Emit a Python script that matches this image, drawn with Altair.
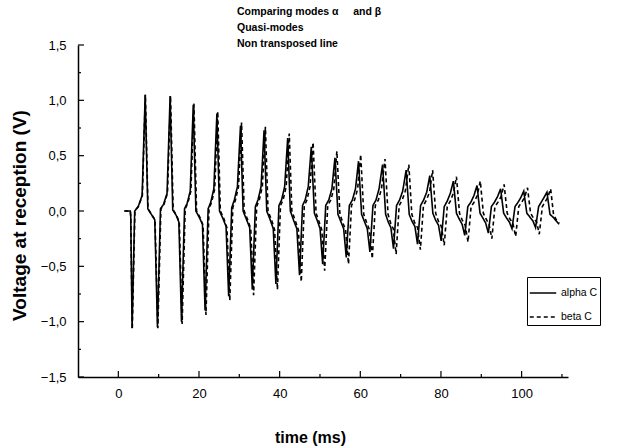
import altair as alt
import pandas as pd

FONT = "Liberation Sans"

series_names = ["alpha C", "beta C"]

alpha_t = [1.5, 2.97, 3.08,
           3.41, 4.06, 4.93, 5.90, 6.66, 7.31, 8.18, 9.04,
           9.70, 10.45, 11.21, 12.08, 12.84, 13.49, 14.36, 15.01,
           15.66, 16.42, 17.07, 17.83, 18.58, 19.23, 20.10, 20.86,
           21.51, 22.27, 22.92, 23.68, 24.44, 25.09, 25.96, 26.71,
           27.36, 28.12, 28.77, 29.53, 30.29, 30.94, 31.81, 32.57,
           33.22, 33.98, 34.63, 35.39, 36.14, 36.80, 37.66, 38.42,
           39.07, 39.83, 40.48, 41.24, 42.00, 42.65, 43.52, 44.27,
           44.93, 45.68, 46.33, 47.09, 47.85, 48.61, 49.37, 50.02,
           50.67, 51.43, 52.19, 52.95, 53.71, 54.46, 55.22, 55.87,
           56.52, 57.28, 58.04, 58.80, 59.56, 60.32, 61.08, 61.73,
           62.38, 63.14, 63.90, 64.65, 65.52, 66.28, 66.93, 67.58,
           68.23, 68.99, 69.75, 70.51, 71.37, 72.13, 72.78, 73.54,
           74.19, 74.95, 75.71, 76.47, 77.23, 77.99, 78.64, 79.40,
           80.05, 80.81, 81.56, 82.32, 83.08, 83.84, 84.49, 85.25,
           85.90, 86.66, 87.42, 88.18, 88.94, 89.69, 90.34, 91.10,
           91.75, 92.51, 93.27, 94.03, 94.79, 95.55, 96.20, 96.96,
           97.61, 98.37, 99.13, 99.78, 100.53, 101.29, 101.94, 102.81,
           103.46, 104.22, 104.87, 105.52, 106.28, 107.04, 107.91, 108.6, 109.3]
alpha_v = [0.0, 0.0, -0.05,
           -1.06, 0.0, 0.04, 0.14, 1.05, 0.02, -0.03, -0.08,
           -1.05, 0.02, 0.06, 0.16, 1.04, 0.01, -0.04, -0.1,
           -1.0, 0.02, 0.07, 0.18, 0.96, 0.0, -0.06, -0.12,
           -0.9, 0.02, 0.08, 0.2, 0.88, 0.0, -0.07, -0.14,
           -0.77, 0.03, 0.1, 0.22, 0.77, 0.0, -0.08, -0.15,
           -0.71, 0.04, 0.1, 0.22, 0.73, 0.0, -0.08, -0.16,
           -0.66, 0.05, 0.1, 0.22, 0.66, 0.0, -0.09, -0.16,
           -0.58, 0.05, 0.1, 0.22, 0.58, -0.02, -0.09, -0.16,
           -0.48, 0.05, 0.1, 0.2, 0.48, -0.03, -0.1, -0.16,
           -0.42, 0.05, 0.1, 0.2, 0.45, -0.03, -0.1, -0.16,
           -0.37, 0.05, 0.1, 0.2, 0.42, -0.03, -0.1, -0.15,
           -0.34, 0.05, 0.1, 0.18, 0.37, -0.03, -0.09, -0.14,
           -0.3, 0.05, 0.1, 0.17, 0.32, -0.02, -0.08, -0.13,
           -0.27, 0.04, 0.09, 0.16, 0.27, -0.02, -0.07, -0.12,
           -0.22, 0.04, 0.08, 0.14, 0.23, -0.02, -0.06, -0.11,
           -0.2, 0.04, 0.08, 0.13, 0.2, -0.02, -0.06, -0.1,
           -0.16, 0.04, 0.08, 0.12, 0.18, -0.02, -0.05, -0.09,
           -0.15, 0.04, 0.08, 0.12, 0.17, -0.03, -0.06, -0.09, -0.12]

beta_t = [1.5, 2.97, 3.08,
          3.46, 4.11, 4.98, 5.96, 6.71, 7.36, 8.23, 9.10,
          9.80, 10.56, 11.32, 12.19, 12.95, 13.60, 14.46, 15.12,
          15.82, 16.58, 17.23, 17.99, 18.75, 19.40, 20.26, 21.02,
          21.73, 22.49, 23.14, 23.90, 24.65, 25.30, 26.17, 26.93,
          27.64, 28.39, 29.04, 29.80, 30.56, 31.21, 32.08, 32.84,
          33.54, 34.30, 34.95, 35.71, 36.47, 37.12, 37.99, 38.75,
          39.45, 40.21, 40.86, 41.62, 42.38, 43.03, 43.90, 44.65,
          45.36, 46.12, 46.77, 47.53, 48.29, 49.04, 49.80, 50.45,
          51.16, 51.92, 52.68, 53.43, 54.19, 54.95, 55.71, 56.36,
          57.07, 57.82, 58.58, 59.34, 60.10, 60.86, 61.62, 62.27,
          62.97, 63.73, 64.49, 65.25, 66.12, 66.88, 67.53, 68.18,
          68.88, 69.64, 70.40, 71.16, 72.03, 72.78, 73.43, 74.19,
          74.90, 75.66, 76.41, 77.17, 77.93, 78.69, 79.34, 80.10,
          80.81, 81.56, 82.32, 83.08, 83.84, 84.60, 85.25, 86.01,
          86.71, 87.47, 88.23, 88.99, 89.75, 90.51, 91.16, 91.92,
          92.62, 93.38, 94.14, 94.90, 95.66, 96.42, 97.07, 97.82,
          98.53, 99.29, 100.05, 100.70, 101.46, 102.22, 102.87, 103.73,
          104.38, 105.14, 105.79, 106.44, 107.20, 107.91, 108.6, 109.3]
beta_v = [0.0, 0.0, -0.05,
          -1.07, 0.0, 0.04, 0.14, 1.05, 0.02, -0.03, -0.08,
          -1.06, 0.02, 0.06, 0.16, 1.04, 0.01, -0.04, -0.1,
          -1.02, 0.02, 0.07, 0.18, 0.97, 0.0, -0.06, -0.13,
          -0.94, 0.02, 0.08, 0.2, 0.9, 0.0, -0.07, -0.15,
          -0.81, 0.03, 0.1, 0.22, 0.8, 0.0, -0.08, -0.16,
          -0.76, 0.04, 0.1, 0.22, 0.76, 0.0, -0.08, -0.17,
          -0.71, 0.05, 0.1, 0.22, 0.7, 0.0, -0.09, -0.17,
          -0.64, 0.05, 0.1, 0.22, 0.62, -0.02, -0.1, -0.17,
          -0.54, 0.05, 0.1, 0.2, 0.54, -0.03, -0.11, -0.17,
          -0.48, 0.05, 0.1, 0.2, 0.51, -0.03, -0.11, -0.17,
          -0.43, 0.05, 0.1, 0.2, 0.47, -0.03, -0.11, -0.16,
          -0.39, 0.05, 0.1, 0.18, 0.42, -0.03, -0.1, -0.15,
          -0.35, 0.05, 0.1, 0.17, 0.37, -0.02, -0.09, -0.14,
          -0.31, 0.04, 0.09, 0.16, 0.31, -0.02, -0.08, -0.13,
          -0.28, 0.04, 0.08, 0.14, 0.27, -0.02, -0.07, -0.12,
          -0.25, 0.04, 0.08, 0.13, 0.24, -0.02, -0.07, -0.11,
          -0.23, 0.04, 0.08, 0.12, 0.21, -0.02, -0.06, -0.1,
          -0.21, 0.04, 0.08, 0.12, 0.2, -0.03, -0.08, -0.11]

x_major = [0, 20, 40, 60, 80, 100]
x_minor = [10, 30, 50, 70, 90, 110]
y_major = [-1.5, -1.0, -0.5, 0.0, 0.5, 1.0, 1.5]
y_minor = [-1.25, -0.75, -0.25, 0.25, 0.75, 1.25]

NB = "\u00a0"
title_lines = ["Comparing modes \u03b1" + NB * 5 + "and \u03b2",
               "Quasi-modes",
               "Non transposed line"]

W, H = 490, 332

df = pd.concat([
    pd.DataFrame({"t": alpha_t, "v": alpha_v, "series": series_names[0]}),
    pd.DataFrame({"t": beta_t, "v": beta_v, "series": series_names[1]}),
], ignore_index=True)

xscale = alt.Scale(domain=[-10, 111.5], nice=False, zero=False)
yscale = alt.Scale(domain=[-1.5, 1.5], nice=False, zero=False)

lines = alt.Chart(df).mark_line(color="black", strokeWidth=1.6).encode(
    x=alt.X("t:Q", scale=xscale, axis=alt.Axis(
        title="time (ms)", values=x_major, format="d", ticks=False, grid=False,
        domainColor="black", domainWidth=1.5,
        labelFont=FONT, labelFontSize=13, labelColor="black", labelPadding=10,
        titleFont=FONT, titleFontSize=16, titleFontWeight="bold", titleColor="black",
        titleX=232, titleY=60, titleBaseline="middle")),
    y=alt.Y("v:Q", scale=yscale, axis=alt.Axis(
        title="Voltage at reception (V)", values=y_major, ticks=False, grid=False,
        labelExpr="replace(format(datum.value, '.1f'), '.', ',')",
        domainColor="black", domainWidth=1.5,
        labelFont=FONT, labelFontSize=13, labelColor="black", labelPadding=12,
        titleFont=FONT, titleFontSize=19, titleFontWeight="bold", titleColor="black",
        titleX=-59, titleY=170, titleBaseline="middle")),
    strokeDash=alt.StrokeDash("series:N", scale=alt.Scale(domain=series_names, range=[[1, 0], [4, 3]]),
        legend=alt.Legend(title=None, orient="none", legendX=449, legendY=232,
                          strokeColor="black", fillColor="white", padding=2,
                          symbolType="stroke", symbolSize=700, symbolStrokeWidth=1.3,
                          symbolStrokeColor="black", labelFont=FONT, labelFontSize=10.5,
                          labelColor="black", rowPadding=4, labelOffset=4)),
)

xt_major = alt.Chart(pd.DataFrame({"t": x_major})).mark_rule(color="black", strokeWidth=1.2).encode(
    x=alt.X("t:Q", scale=xscale), y=alt.value(H), y2=alt.value(H - 6))
xt_minor = alt.Chart(pd.DataFrame({"t": x_minor})).mark_rule(color="black", strokeWidth=1.2).encode(
    x=alt.X("t:Q", scale=xscale), y=alt.value(H), y2=alt.value(H - 3))
yt_major = alt.Chart(pd.DataFrame({"v": y_major})).mark_rule(color="black", strokeWidth=1.2).encode(
    y=alt.Y("v:Q", scale=yscale), x=alt.value(0), x2=alt.value(6))
yt_minor = alt.Chart(pd.DataFrame({"v": y_minor})).mark_rule(color="black", strokeWidth=1.2).encode(
    y=alt.Y("v:Q", scale=yscale), x=alt.value(0), x2=alt.value(3))

title_layers = []
for line, yy in zip(title_lines, [-33, -17, -1]):
    title_layers.append(
        alt.Chart(pd.DataFrame({"txt": [line]})).mark_text(
            align="left", baseline="middle", font=FONT, fontSize=10.5, fontWeight="bold", color="black"
        ).encode(text="txt:N", x=alt.value(159), y=alt.value(yy))
    )

chart = alt.layer(lines, xt_major, xt_minor, yt_major, yt_minor, *title_layers).properties(
    width=W, height=H,
    autosize=alt.AutoSizeParams(type="none"),
    padding={"left": 78, "top": 45, "right": 52, "bottom": 71},
    background="white",
).configure_view(stroke=None)

chart.save("out.html", embed_options={"renderer": "svg", "actions": False})
